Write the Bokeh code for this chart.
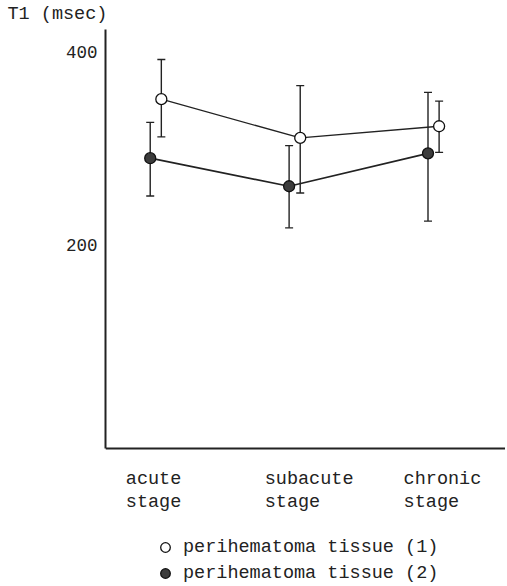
from bokeh.plotting import figure
from bokeh.models import (Range1d, FixedTicker, Legend, LegendItem,
                          Whisker, ColumnDataSource, TeeHead)
from bokeh.embed import file_html
from bokeh.resources import INLINE

# ---------------- data ----------------
categories = ["acute\nstage", "subacute\nstage", "chronic\nstage"]
y_ticks = [200, 400]
y_title = "T1 (msec)"
series_names = ["perihematoma tissue (1)", "perihematoma tissue (2)"]

open_mean = [351, 311, 323]
open_upper = [392, 365, 349]
open_lower = [312, 254, 296]

filled_mean = [290, 261, 295]
filled_upper = [327, 303, 358]
filled_lower = [251, 218, 225]

# ---------------- layout constants ----------------
FONT = "Liberation Mono"
INK = "#222222"
W, H = 505, 585
FL, FT, FB = 105, 29, 448          # frame left/top and x-axis position in canvas px
X0, X1 = -0.362, 2.518
Y0, Y1 = -10, 423                   # value at x-axis line and at top of y axis
Y_EXT = Y1 - (H - FT) * (Y1 - Y0) / (FB - FT)   # frame continues below the axis
OFF = 0.04                          # horizontal offset between the two series
LABEL_SHIFT = 0.104                 # tick label centre relative to group centre

p = figure(width=W, height=H, output_backend="svg", toolbar_location=None,
           x_range=Range1d(X0, X1), y_range=Range1d(Y_EXT, Y1),
           min_border_left=FL, min_border_top=FT, min_border_bottom=0,
           min_border_right=0)
p.outline_line_color = None
p.grid.visible = False
p.background_fill_color = "white"
p.border_fill_color = "white"

idx = list(range(len(categories)))
x_open = [i + OFF for i in idx]
x_filled = [i - OFF for i in idx]

# connecting lines
p.line(x_open, open_mean, line_color=INK, line_width=1.3)
p.line(x_filled, filled_mean, line_color=INK, line_width=1.7)

# error bars
for xs, up, lo in ((x_open, open_upper, open_lower), (x_filled, filled_upper, filled_lower)):
    src = ColumnDataSource(dict(x=xs, upper=up, lower=lo))
    w = Whisker(source=src, base="x", upper="upper", lower="lower", dimension="height",
                line_color=INK, line_width=1.4,
                upper_head=TeeHead(size=8, line_color=INK, line_width=1.4),
                lower_head=TeeHead(size=8, line_color=INK, line_width=1.4))
    p.add_layout(w)

r_open = p.scatter(x_open, open_mean, size=11, fill_color="white",
                   line_color="#111111", line_width=1.3)
r_filled = p.scatter(x_filled, filled_mean, size=11, fill_color="#3c3c3c",
                     line_color="#111111", line_width=1.3)

# ---------------- axes ----------------
width_chars = max(len(line) for c in categories for line in c.split("\n"))
NB = "\u00a0"
tick_pos = [round(i + LABEL_SHIFT, 4) for i in idx]
overrides = {}
for t, c in zip(tick_pos, categories):
    overrides[t] = "\n".join(line + NB * (width_chars - len(line)) for line in c.split("\n"))

xa = p.xaxis[0]
xa.fixed_location = Y0
xa.ticker = FixedTicker(ticks=tick_pos)
xa.major_label_overrides = overrides
xa.major_tick_line_color = None
xa.minor_tick_line_color = None
xa.major_tick_out = 0
xa.axis_line_width = 2
xa.axis_line_color = INK
xa.major_label_text_font = FONT
xa.major_label_text_font_size = "18.5px"
xa.major_label_text_color = INK
xa.major_label_text_line_height = 1.1
xa.major_label_standoff = 20

ya = p.yaxis[0]
ya.bounds = (Y0, Y1)
ya.ticker = FixedTicker(ticks=y_ticks)
ya.major_tick_line_color = None
ya.minor_tick_line_color = None
ya.major_tick_out = 0
ya.axis_line_width = 2
ya.axis_line_color = INK
ya.major_label_text_font = FONT
ya.major_label_text_font_size = "17.5px"
ya.major_label_text_color = INK
ya.major_label_standoff = 8

# y title at top-left (plot title, shifted to the left edge)
p.title.text = y_title
p.title.align = "left"
p.title.offset = -(FL - 7)
p.title.standoff = 5
p.title.vertical_align = "top"
p.title.text_font = FONT
p.title.text_font_size = "18.5px"
p.title.text_font_style = "normal"
p.title.text_color = INK

# legend below the x axis (inside the extended frame)
legend = Legend(items=[LegendItem(label=series_names[0], renderers=[r_open]),
                       LegendItem(label=series_names[1], renderers=[r_filled])],
                location=(48, 0), orientation="vertical",
                glyph_width=24, glyph_height=24, label_standoff=6, spacing=2,
                padding=0, margin=0, border_line_color=None,
                background_fill_alpha=0, label_text_font=FONT,
                label_text_font_size="18.5px", label_text_color=INK,
                label_height=24)
p.add_layout(legend)

open("out.html", "w").write(file_html(p, INLINE))
